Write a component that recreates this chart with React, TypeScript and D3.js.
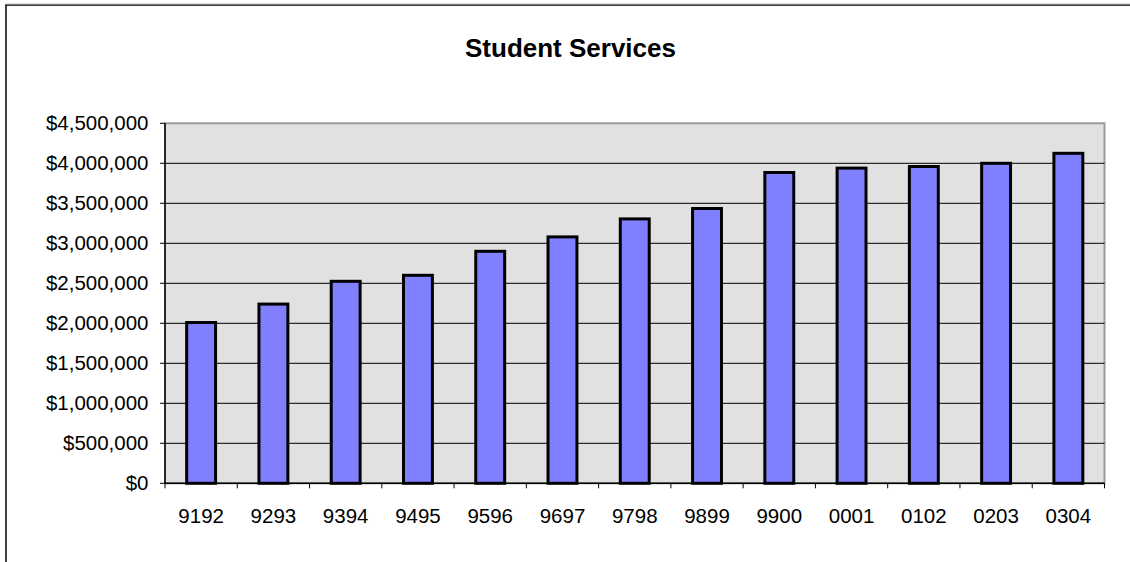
import React from "react";
import * as d3 from "d3";

const categories = ["9192", "9293", "9394", "9495", "9596", "9697", "9798", "9899", "9900", "0001", "0102", "0203", "0304"];
const values = [2010000, 2240000, 2525000, 2600000, 2900000, 3080000, 3305000, 3435000, 3885000, 3940000, 3960000, 4000000, 4125000];
const yTicks = [0, 500000, 1000000, 1500000, 2000000, 2500000, 3000000, 3500000, 4000000, 4500000];
const title = "Student Services";

const W = 1130;
const H = 562;
const plot = { left: 165, right: 1104.5, top: 123.3, bottom: 483.3 };
const font = "Arial, 'Liberation Sans', Helvetica, sans-serif";

export default function App() {
  const x = d3
    .scaleBand<string>()
    .domain(categories)
    .range([plot.left, plot.right])
    .paddingInner(0.6)
    .paddingOuter(0.3);
  const step = (plot.right - plot.left) / categories.length;
  const y = d3.scaleLinear().domain([0, 4500000]).range([plot.bottom, plot.top]);
  const fmt = (v: number) => "$" + d3.format(",")(v);

  return (
    <svg
      width={W}
      height={H}
      style={{ position: "absolute", left: 0, top: 0, background: "#fff" }}
    >
      {/* outer chart frame */}
      <rect x={6} y={5} width={W + 20} height={H + 20} fill="#fff" stroke="#000" strokeWidth={1.5} />
      <line x1={6} x2={W} y1={4} y2={4} stroke="#bbb" strokeWidth={1} />

      {/* title */}
      <text
        x={570.5}
        y={57.3}
        textAnchor="middle"
        fontFamily={font}
        fontWeight="bold"
        fontSize={26}
        fill="#000"
      >
        {title}
      </text>

      {/* plot area */}
      <rect
        x={plot.left}
        y={plot.top}
        width={plot.right - plot.left}
        height={plot.bottom - plot.top}
        fill="#e1e1e1"
        stroke="#9a9a9a"
        strokeWidth={2}
      />

      {/* gridlines */}
      {yTicks.slice(1, -1).map((t) => (
        <line
          key={"g" + t}
          x1={plot.left}
          x2={plot.right}
          y1={y(t)}
          y2={y(t)}
          stroke="#000"
          strokeWidth={1}
        />
      ))}

      {/* bars */}
      {categories.map((c, i) => (
        <rect
          key={c}
          x={x(c)!}
          y={y(values[i])}
          width={x.bandwidth()}
          height={plot.bottom - y(values[i])}
          fill="#8080ff"
          stroke="#000"
          strokeWidth={3}
        />
      ))}

      {/* axes */}
      <line x1={plot.left} x2={plot.left} y1={plot.top} y2={plot.bottom} stroke="#000" strokeWidth={1.5} />
      <line x1={plot.left} x2={plot.right} y1={plot.bottom} y2={plot.bottom} stroke="#000" strokeWidth={1.5} />

      {/* y ticks & labels */}
      {yTicks.map((t) => (
        <g key={"y" + t}>
          <line x1={plot.left - 5} x2={plot.left} y1={y(t)} y2={y(t)} stroke="#000" strokeWidth={1} />
          <text
            x={148.5}
            y={y(t)}
            dy="0.34em"
            textAnchor="end"
            fontFamily={font}
            fontSize={20.5}
            fill="#000"
          >
            {fmt(t)}
          </text>
        </g>
      ))}

      {/* x ticks & labels */}
      {d3.range(categories.length + 1).map((i) => (
        <line
          key={"xt" + i}
          x1={plot.left + i * step}
          x2={plot.left + i * step}
          y1={plot.bottom}
          y2={plot.bottom + 5}
          stroke="#000"
          strokeWidth={1}
        />
      ))}
      {categories.map((c) => (
        <text
          key={"xl" + c}
          x={x(c)! + x.bandwidth() / 2}
          y={522.7}
          textAnchor="middle"
          fontFamily={font}
          fontSize={20.5}
          fill="#000"
        >
          {c}
        </text>
      ))}
    </svg>
  );
}
